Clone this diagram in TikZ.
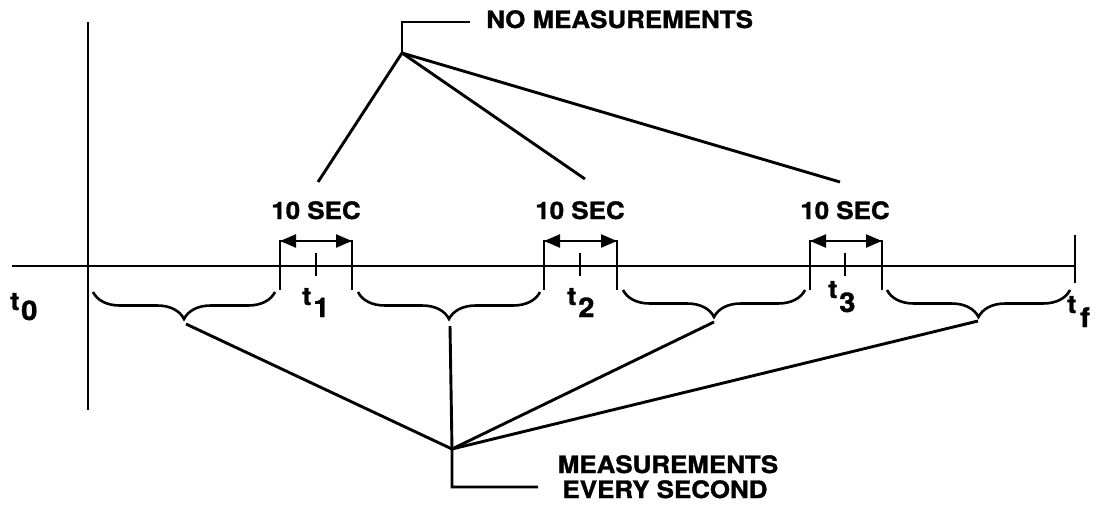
\documentclass[tikz,border=0pt]{standalone}
\usepackage{fontspec}
\newfontfamily\lab[FakeStretch=1.08,FakeBold=1.3]{TeX Gyre Heros}
\usetikzlibrary{decorations.pathreplacing,arrows.meta}
\begin{document}
\begin{tikzpicture}[x=1pt,y=-1pt, line width=2.5pt,
  diag/.style={line width=2.9pt},
  brc/.style={decorate, decoration={brace, mirror, amplitude=27pt}, line width=2.6pt},
  lbl/.style={font=\lab\bfseries\fontsize{24}{25}\selectfont, inner sep=0pt},
  tl/.style={font=\lab\bfseries\fontsize{25}{26}\selectfont, inner sep=0pt, anchor=base west},
  dbl/.style={{Triangle[length=16pt,width=13pt]}-{Triangle[length=16pt,width=13pt]}, line width=2.3pt}]
\useasboundingbox (0,0) rectangle (1105,514);
% axes
\coordinate (ax0) at (12,266); \coordinate (ax1) at (1075,266);
\draw (ax0) -- (ax1);
\coordinate (vy0) at (88,22); \coordinate (vy1) at (88,410);
\draw (vy0) -- (vy1);
\coordinate (tfa) at (1075,235); \coordinate (tfb) at (1075,283);
\draw (tfa) -- (tfb);
% intervals
\foreach \i/\l/\r/\m in {1/280/352/316, 2/544/617/580, 3/810/882/845}{
  \coordinate (L\i) at (\l,290); \coordinate (Lt\i) at (\l,241);
  \coordinate (R\i) at (\r,290); \coordinate (Rt\i) at (\r,241);
  \draw (L\i) -- (Lt\i) -- (Rt\i) -- (R\i);
  \draw[dbl] (Lt\i) -- (Rt\i);
  \coordinate (ka\i) at (\m,253); \coordinate (kb\i) at (\m,276);
  \draw (ka\i) -- (kb\i);
  \node[lbl, anchor=base] (sec\i) at (\m,219) {10 SEC};
}
% braces
\coordinate (b1a) at (93,292);  \coordinate (b1b) at (275,292);
\coordinate (b2a) at (358,292); \coordinate (b2b) at (540,292);
\coordinate (b3a) at (623,290); \coordinate (b3b) at (805,290);
\coordinate (b4a) at (887,290); \coordinate (b4b) at (1070,290);
\draw[brc] (b1a) -- (b1b);
\draw[brc] (b2a) -- (b2b);
\draw[brc] (b3a) -- (b3b);
\draw[brc] (b4a) -- (b4b);
% bottom connectors
\coordinate (C) at (452,449);
\coordinate (m1) at (186,324);
\coordinate (m2) at (450,326);
\coordinate (m3) at (714,322);
\coordinate (m4) at (978,321);
\coordinate (cb) at (452,487);
\coordinate (ce) at (538,487);
\draw[diag] (m1) -- (C);
\draw[diag] (m3) -- (C);
\draw[diag] (m4) -- (C);
\draw[diag] (m2) -- (C) -- (cb) -- (ce);
% top connectors
\coordinate (N) at (402,53);
\coordinate (nt) at (402,22);
\coordinate (ne) at (470,22);
\coordinate (s1) at (318,182);
\coordinate (s2) at (585,179);
\coordinate (s3) at (840,182);
\draw (ne) -- (nt) -- (N);
\draw[diag] (N) -- (s1);
\draw[diag] (N) -- (s2);
\draw[diag] (N) -- (s3);
% texts
\node[lbl, anchor=base west] (nm) at (485,28) {NO MEASUREMENTS};
\node[lbl, anchor=base] (me1) at (668,473) {MEASUREMENTS};
\node[lbl, anchor=base] (me2) at (665,498) {EVERY SECOND};
% t labels
\node[tl] (t0) at (9,310) {t\hspace{2pt}\raisebox{-10pt}{\fontsize{27}{27}\selectfont 0}};
\node[tl] (t1) at (301,305) {t\hspace{2pt}\raisebox{-12pt}{\fontsize{27}{27}\selectfont 1}};
\node[tl] (t2) at (566,305) {t\hspace{2pt}\raisebox{-12pt}{\fontsize{27}{27}\selectfont 2}};
\node[tl] (t3) at (827,298) {t\hspace{2pt}\raisebox{-14pt}{\fontsize{27}{27}\selectfont 3}};
\node[tl] (tf) at (1066,313) {t\hspace{4pt}\raisebox{-14pt}{\fontsize{27}{27}\selectfont f}};
\end{tikzpicture}
\end{document}
